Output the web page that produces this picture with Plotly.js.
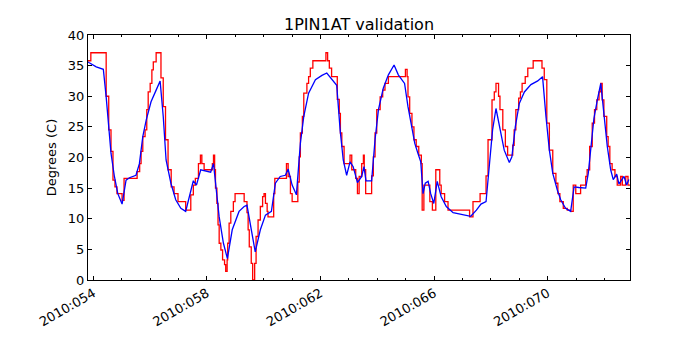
<!DOCTYPE html>
<html>
<head>
<meta charset="utf-8">
<script src="https://cdn.plot.ly/plotly-3.0.1.min.js"></script>
<style>
  html, body { margin: 0; padding: 0; background: #fff; }
  #chart { width: 700px; height: 350px; }
</style>
</head>
<body>
<div id="chart"></div>
<script>
// Time axis is day-of-year 2010 (fractional days)
const blueDays = [53.81, 53.84, 54.10, 54.35, 54.45, 54.54, 54.62, 54.74, 54.86, 55.01,
    55.15, 55.27, 55.50, 55.62, 55.74, 55.86, 56.03, 56.21, 56.35, 56.46,
    56.56, 56.73, 56.90, 57.08, 57.25, 57.52, 57.63, 57.78, 58.13, 58.23,
    58.43, 58.58, 58.72, 58.89, 59.13, 59.31, 59.41, 59.70, 59.88, 60.06,
    60.27, 60.41, 60.58, 60.76, 60.86, 61.00, 61.15, 61.29, 61.41, 61.58,
    61.82, 62.05, 62.22, 62.57, 62.69, 62.80, 62.92, 63.04, 63.15, 63.30,
    63.45, 63.53, 63.60, 63.80, 63.92, 64.04, 64.21, 64.39, 64.59, 64.74,
    64.96, 65.08, 65.20, 65.32, 65.43, 65.53, 65.61, 65.69, 65.79, 65.88,
    65.99, 66.11, 66.25, 66.43, 66.67, 66.96, 67.29, 67.49, 67.65, 67.83,
    67.94, 68.06, 68.18, 68.30, 68.47, 68.65, 68.74, 68.86, 69.00, 69.18,
    69.41, 69.65, 69.82, 69.94, 70.06, 70.18, 70.25, 70.34, 70.46, 70.63,
    70.81, 70.93, 71.10, 71.34, 71.43, 71.54, 71.63, 71.75, 71.87, 71.98,
    72.10, 72.22, 72.31, 72.43, 72.51, 72.69, 72.78, 72.86];
const blueTemps = [35.6, 35.5, 34.8, 34.4, 29.9, 24.5, 20.7, 16.9, 14.1, 12.4,
    16.3, 16.7, 17.1, 19.0, 23.4, 26.1, 29.1, 31.0, 32.5, 26.7,
    19.6, 15.8, 13.1, 11.7, 11.2, 16.2, 15.5, 18.0, 17.6, 19.0,
    10.3, 6.0, 3.5, 8.2, 11.2, 12.0, 12.2, 4.6, 8.2, 10.6,
    11.2, 15.8, 16.9, 17.1, 18.1, 15.5, 13.9, 22.3, 26.7, 30.5,
    32.7, 33.4, 33.8, 31.8, 24.5, 19.6, 17.1, 19.3, 18.5, 15.9,
    16.9, 18.5, 16.2, 16.2, 22.9, 27.8, 31.3, 33.5, 35.1, 33.5,
    32.1, 28.3, 25.0, 22.3, 20.7, 19.3, 14.1, 15.8, 16.1, 14.1,
    12.5, 16.1, 13.6, 12.0, 11.0, 10.7, 10.4, 11.4, 12.4, 12.8,
    19.0, 24.5, 28.0, 25.0, 21.2, 19.2, 20.1, 25.0, 28.8, 30.7,
    31.9, 32.5, 33.2, 26.7, 21.2, 17.4, 16.2, 14.7, 13.1, 11.7,
    11.2, 15.2, 15.1, 15.0, 17.4, 22.9, 26.4, 29.4, 32.1, 27.2,
    21.8, 18.0, 16.4, 17.3, 15.7, 16.9, 15.5, 16.4];

const redDays = [53.81, 53.91, 54.38, 54.45, 54.54, 54.62, 54.69, 54.76, 54.83, 54.90,
    55.01, 55.08, 55.54, 55.63, 55.68, 55.74, 55.82, 55.88, 55.93, 56.00,
    56.06, 56.11, 56.21, 56.38, 56.46, 56.54, 56.63, 56.74, 56.84, 56.98,
    57.25, 57.43, 57.52, 57.59, 57.70, 57.77, 57.82, 57.90, 58.19, 58.23,
    58.27, 58.30, 58.35, 58.39, 58.43, 58.49, 58.55, 58.62, 58.66, 58.71,
    58.73, 58.78, 58.84, 58.93, 58.99, 59.31, 59.41, 59.45, 59.49, 59.56,
    59.61, 59.68, 59.73, 59.80, 59.88, 59.96, 60.01, 60.06, 60.12, 60.15,
    60.35, 60.39, 60.80, 60.86, 60.94, 61.00, 61.20, 61.25, 61.29, 61.36,
    61.41, 61.52, 61.58, 61.64, 61.73, 62.19, 62.25, 62.31, 62.39, 62.59,
    62.66, 62.70, 62.75, 62.83, 63.04, 63.10, 63.24, 63.30, 63.36, 63.45,
    63.51, 63.54, 63.59, 63.80, 63.86, 63.92, 63.98, 64.10, 64.19, 64.27,
    64.39, 64.99, 65.05, 65.08, 65.14, 65.22, 65.29, 65.37, 65.46, 65.55,
    65.58, 65.64, 65.85, 65.94, 66.06, 66.20, 66.25, 66.37, 66.49, 67.25,
    67.37, 67.62, 67.83, 67.90, 68.04, 68.12, 68.18, 68.27, 68.32, 68.42,
    68.51, 68.59, 68.77, 68.82, 68.88, 68.98, 69.04, 69.10, 69.21, 69.30,
    69.49, 69.80, 69.88, 69.97, 70.06, 70.18, 70.29, 70.36, 70.43, 70.55,
    70.69, 70.81, 70.90, 70.99, 71.16, 71.34, 71.39, 71.48, 71.57, 71.65,
    71.73, 71.81, 71.87, 71.92, 71.98, 72.08, 72.13, 72.19, 72.27, 72.37,
    72.45, 72.57, 72.63, 72.75, 72.83, 72.90];
const redTemps = [35.8, 37.1, 37.1, 30.0, 24.5, 21.0, 16.3, 15.2, 14.1, 14.1,
    13.0, 16.6, 17.7, 19.0, 21.0, 23.4, 24.5, 27.8, 30.7, 32.1,
    34.3, 35.6, 37.1, 33.0, 28.3, 22.9, 18.0, 15.2, 14.1, 12.8,
    11.4, 13.9, 15.5, 16.6, 19.0, 20.4, 19.0, 18.0, 19.0, 20.4,
    18.0, 15.0, 12.5, 9.0, 6.0, 4.9, 3.3, 2.5, 1.4, 3.3,
    6.0, 9.3, 11.2, 12.8, 14.1, 12.8, 11.0, 8.2, 5.4, 2.7,
    0.0, 2.7, 7.1, 9.8, 12.0, 13.6, 14.1, 12.5, 11.2, 10.3,
    14.1, 16.6, 19.0, 16.9, 14.1, 12.8, 16.0, 20.1, 24.0, 26.7,
    30.5, 32.1, 33.2, 34.6, 35.8, 37.1, 35.8, 34.6, 33.2, 29.5,
    27.2, 24.0, 21.8, 19.0, 20.4, 18.0, 16.6, 14.1, 16.9, 19.0,
    20.4, 18.0, 14.1, 17.0, 20.1, 24.0, 27.8, 29.9, 31.0, 32.1,
    33.2, 34.4, 33.2, 29.9, 27.2, 25.0, 22.9, 21.8, 20.4, 19.0,
    11.4, 15.5, 12.8, 11.4, 18.0, 15.5, 14.1, 12.8, 11.4, 10.3,
    12.8, 14.1, 17.0, 22.9, 29.4, 30.7, 32.1, 30.0, 27.8, 24.5,
    21.8, 20.4, 22.0, 24.5, 27.8, 29.7, 30.7, 32.1, 33.2, 34.6,
    35.8, 34.6, 32.7, 25.6, 21.2, 17.4, 15.8, 14.1, 12.8, 11.7,
    11.4, 11.2, 15.5, 14.1, 15.5, 16.9, 18.0, 21.8, 25.6, 27.8,
    29.4, 30.7, 32.1, 29.4, 26.7, 23.4, 21.8, 19.0, 18.0, 16.9,
    15.5, 16.9, 15.5, 16.9, 15.5, 15.5];

const tickDays = [54, 58, 62, 66, 70];
const tickLabels = ['2010:054', '2010:058', '2010:062', '2010:066', '2010:070'];

const traces = [
    {
        x: redDays, y: redTemps,
        mode: 'lines',
        line: { color: '#ff0000', width: 1.3, shape: 'hv' },
        hoverinfo: 'skip'
    },
    {
        x: blueDays, y: blueTemps,
        mode: 'lines',
        line: { color: '#0000ff', width: 1.3 },
        hoverinfo: 'skip'
    }
];

const axisCommon = {
    showgrid: false,
    zeroline: false,
    showline: true,
    linecolor: '#000',
    linewidth: 1,
    mirror: 'allticks',
    ticks: 'inside',
    ticklen: 4,
    tickcolor: '#000',
    tickfont: { family: 'DejaVu Sans', size: 13, color: '#000' }
};

const layout = {
    width: 700,
    height: 350,
    paper_bgcolor: '#fff',
    plot_bgcolor: '#fff',
    showlegend: false,
    margin: { t: 35, r: 70, b: 70, l: 88 },
    font: { family: 'DejaVu Sans', color: '#000' },
    title: {
        text: '1PIN1AT validation',
        font: { family: 'DejaVu Sans', size: 16, color: '#000' },
        x: 0.5,
        xref: 'paper',
        y: 1,
        yref: 'paper',
        yanchor: 'bottom',
        pad: { b: 5 }
    },
    xaxis: Object.assign({}, axisCommon, {
        range: [53.81, 72.9],
        tickmode: 'array',
        tickvals: tickDays,
        ticktext: tickLabels,
        tickangle: -30,
        minor: { dtick: 1, tick0: 54, ticks: 'inside', ticklen: 2, tickcolor: '#000', showgrid: false }
    }),
    yaxis: Object.assign({}, axisCommon, {
        range: [0, 40],
        dtick: 5,
        tick0: 0,
        title: { text: 'Degrees (C)', font: { family: 'DejaVu Sans', size: 13, color: '#000' }, standoff: 8 }
    })
};

Plotly.newPlot('chart', traces, layout, { displayModeBar: false, staticPlot: true });
</script>
</body>
</html>
